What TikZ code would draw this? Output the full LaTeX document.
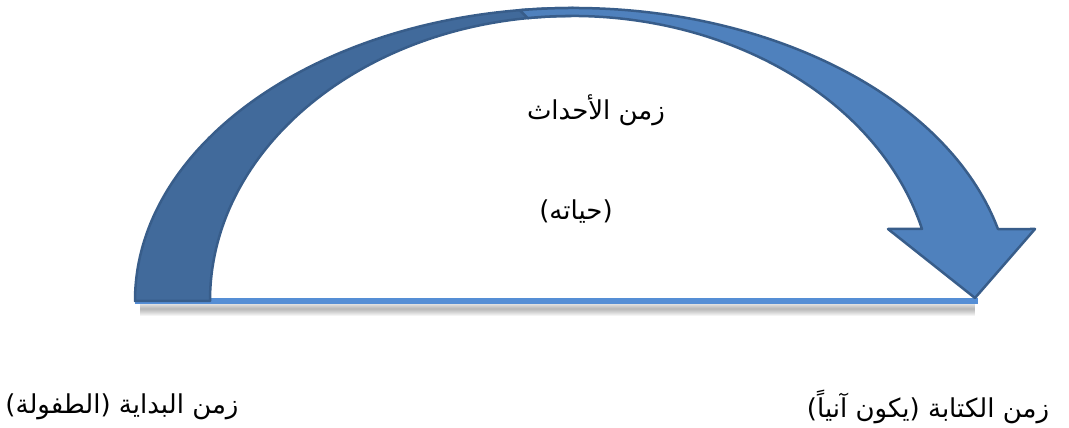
\documentclass[tikz,border=0pt]{standalone}
\usepackage{fontspec}
\newfontfamily\arabicfont[Script=Arabic]{DejaVu Sans}
\TeXXeTstate=1
\definecolor{bandback}{HTML}{416A9B}
\definecolor{bandfront}{HTML}{4F81BD}
\definecolor{bandline}{HTML}{385D8A}
\definecolor{timeblue}{HTML}{558ED5}
\tikzset{
  backband/.style={
    fill=bandback,
    draw=bandline,
    line width=2.5pt,
    line join=round
  },
  frontband/.style={
    fill=bandfront,
    draw=bandline,
    line width=2.5pt,
    line join=round
  },
  timeline/.style={
    draw=timeblue,
    line width=5.5pt
  },
  arabtext/.style={
    font=\arabicfont\fontsize{26}{30}\selectfont,
    inner sep=0pt
  }
}

\begin{document}
\begin{tikzpicture}[x=1pt,y=1pt]
  \useasboundingbox (0,0) rectangle (1069,428);
  % ends of the curved band
  \coordinate (footout) at (135,127);
  \coordinate (footin) at (210,127);
  \coordinate (neckin) at (922,199);
  \coordinate (wingl) at (888,199);
  \coordinate (wingr) at (1035,199);
  \coordinate (tip) at (975,130);
  \coordinate (topin) at ([shift={(571.9,127)}]90:361.9 and 285);
  \coordinate (frontout) at ([shift={(573.2,127)}]97:438.2 and 293);
  % soft shadow under the time line
  \foreach \w in {2,4,...,14}
    \draw[black, opacity=0.045, line width=\w pt] (140,119) -- (975,119);
  \draw[timeline] (footout) -- (978,127);
  % back part of the band
  \draw[backband] (footout) arc[start angle=180, end angle=90, x radius=438.2, y radius=293]
    -- (topin) arc[start angle=90, end angle=180, x radius=361.9, y radius=285] -- cycle;
  % front part with the head
  \draw[frontband] (frontout) arc[start angle=97, end angle=14.22, x radius=438.2, y radius=293]
    -- (wingr) -- (tip) -- (wingl) -- (neckin)
    arc[start angle=14.63, end angle=97, x radius=361.9, y radius=285] -- cycle;
  \node[arabtext] (events) at (596,318) {\beginR زمن الأحداث\endR};
  \node[arabtext] (life) at (576,216) {\beginR (حياته)\endR};
  \node[arabtext] (start) at (122,21) {\beginR زمن البداية (الطفولة)\endR};
  \node[arabtext] (writing) at (928,21) {\beginR زمن الكتابة (يكون آنياً)\endR};
\end{tikzpicture}
\end{document}
